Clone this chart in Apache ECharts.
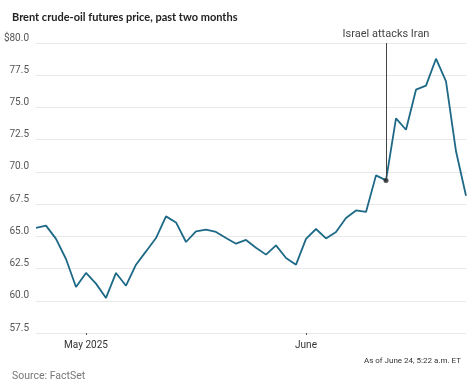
<!DOCTYPE html>
<html>
<head>
<meta charset="utf-8">
<script src="https://cdn.jsdelivr.net/npm/echarts@6/dist/echarts.min.js"></script>
<style>
html,body{margin:0;padding:0;background:#fff;}
#chart{width:474px;height:382px;}
</style>
</head>
<body>
<div id="chart"></div>
<script>
const dates = [
  '2025-04-24','2025-04-25','2025-04-28','2025-04-29','2025-04-30',
  '2025-05-01','2025-05-02','2025-05-05','2025-05-06','2025-05-07','2025-05-08','2025-05-09',
  '2025-05-12','2025-05-13','2025-05-14','2025-05-15','2025-05-16',
  '2025-05-19','2025-05-20','2025-05-21','2025-05-22','2025-05-23',
  '2025-05-26','2025-05-27','2025-05-28','2025-05-29','2025-05-30',
  '2025-06-02','2025-06-03','2025-06-04','2025-06-05','2025-06-06',
  '2025-06-09','2025-06-10','2025-06-11','2025-06-12','2025-06-13',
  '2025-06-16','2025-06-17','2025-06-18','2025-06-19','2025-06-20',
  '2025-06-23','2025-06-24'
];
const prices = [
  65.65,65.83,64.80,63.24,61.07,
  62.16,61.33,60.22,62.16,61.17,62.80,63.83,
  64.87,66.55,66.08,64.56,65.38,
  65.52,65.34,64.87,64.43,64.72,
  64.12,63.58,64.30,63.32,62.80,
  64.80,65.57,64.84,65.34,66.42,
  67.01,66.89,69.73,69.34,74.15,
  73.27,76.38,76.69,78.78,77.02,
  71.60,68.15
];
const xTickLabels = {'2025-05-01':'May 2025','2025-06-02':'June'};
const yTicks = [57.5,60,62.5,65,67.5,70,72.5,75,77.5,80];
const eventDate = '2025-06-12';
const eventLabel = 'Israel attacks Iran';

const eventIdx = dates.indexOf(eventDate);
const chart = echarts.init(document.getElementById('chart'), null, {renderer:'canvas'});
const narrow = '"Liberation Sans Narrow", "Roboto", sans-serif';
const titleFam = 'Lato, "Open Sans", sans-serif';
chart.setOption({
  animation:false,
  textStyle:{fontFamily:narrow},
  title:[
    {text:'Brent crude-oil futures price, past two months', left:7, top:7,
     textStyle:{fontSize:11, fontWeight:'bold', color:'#222', fontFamily:titleFam}},
    {text:'As of June 24, 5:22 a.m. ET', right:8, top:352,
     textStyle:{fontSize:8, fontWeight:'normal', color:'#333', fontFamily:narrow}},
    {text:'Source: FactSet', left:7, top:366,
     textStyle:{fontSize:10.5, fontWeight:'normal', color:'#777', fontFamily:narrow}}
  ],
  grid:{left:36, right:8, top:43, bottom:49},
  xAxis:{
    type:'category', data:dates, boundaryGap:false,
    axisLine:{show:false},
    axisTick:{show:true, length:2, lineStyle:{color:'#555'}, interval:(i,v)=>v in xTickLabels, alignWithLabel:true},
    axisLabel:{interval:(i,v)=>v in xTickLabels, formatter:(v)=>xTickLabels[v]||'', color:'#333', fontSize:10, margin:7, fontFamily:narrow},
    splitLine:{show:false}
  },
  yAxis:{
    type:'value', min:yTicks[0], max:yTicks[yTicks.length-1], interval:2.5,
    axisLine:{show:false}, axisTick:{show:false},
    axisLabel:{formatter:(v)=> v===80 ? '$80.0' : v.toFixed(1), color:'#555', fontSize:10,
      verticalAlign:'bottom', margin:7, fontFamily:narrow},
    splitLine:{lineStyle:{color:'#e8e8e8', width:1}}
  },
  series:[
    {
      type:'line', data:prices, symbol:'none', smooth:false,
      lineStyle:{color:'#1d6987', width:1.8},
      markLine:{
        silent:true, symbol:['none','none'],
        lineStyle:{color:'#444', width:1, type:'solid'},
        label:{show:true, position:'end', formatter:eventLabel, color:'#444', fontSize:11, distance:3, fontFamily:narrow},
        data:[[{coord:[eventIdx, prices[eventIdx]]},{coord:[eventIdx, yTicks[yTicks.length-1]]}]]
      },
      z:2
    },
    {
      type:'scatter', data:[[eventIdx, prices[eventIdx]]], symbol:'circle', symbolSize:5,
      itemStyle:{color:'#222'}, z:3, silent:true
    }
  ]
});
</script>
</body>
</html>
